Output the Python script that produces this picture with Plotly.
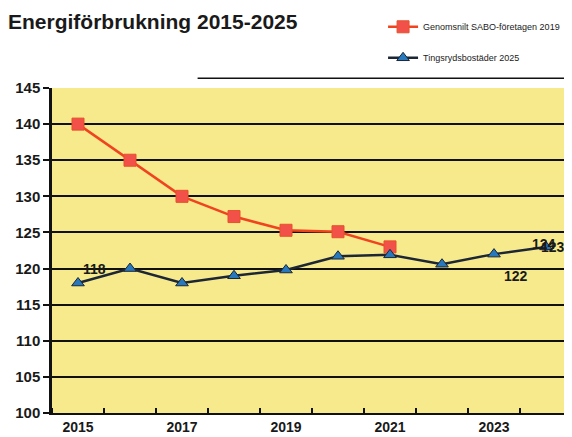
import plotly.graph_objects as go

# Energy use per year
years = [2015, 2016, 2017, 2018, 2019, 2020, 2021, 2022, 2023, 2024]
sabo_years = [2015, 2016, 2017, 2018, 2019, 2020, 2021]
sabo_values = [140, 135, 130, 127.2, 125.3, 125.1, 123]
tingsryd_values = [118, 120, 118, 119, 119.8, 121.7, 121.9, 120.6, 122, 123]
y_ticks = [100, 105, 110, 115, 120, 125, 130, 135, 140, 145]
x_labels = [2015, 2017, 2019, 2021, 2023]

# points that carry a value label in the original, with label offsets
labelled = {2015: (16, 14), 2023: (22, -22), 2024: (7, 0)}

fig = go.Figure()

fig.add_trace(go.Scatter(
    x=sabo_years, y=sabo_values, mode='lines+markers',
    name='Genomsnilt SABO-företagen 2019', legendgroup='a',
    line=dict(color='#f0431f', width=2.5),
    marker=dict(symbol='square', size=12, color='#f2514a',
                line=dict(color='#e8502a', width=1))
))

fig.add_trace(go.Scatter(
    x=years, y=tingsryd_values, mode='lines+markers',
    name='Tingsrydsbostäder 2025', legendgroup='b',
    line=dict(color='#1c2634', width=2.5),
    marker=dict(symbol='triangle-up', size=11, color='#2878bd',
                line=dict(color='#1c2634', width=1))
))

lbl_font = dict(family='Liberation Sans', size=14, color='#1a1a1a', weight='bold')
for yr, (dx, dy) in labelled.items():
    v = tingsryd_values[years.index(yr)]
    fig.add_annotation(x=yr, y=v, text=str(round(v)), showarrow=False,
                       xshift=dx, yshift=dy, font=lbl_font)
# overlapping label at the end of the line, as in the scan
fig.add_annotation(x=years[-1], y=tingsryd_values[-1], text='124', showarrow=False,
                   xshift=-2, yshift=3, font=lbl_font)

# the page has an 8px body margin, so the figure is sized/offset to compensate
fig.update_layout(
    width=564, height=429,
    margin=dict(l=44, r=0, t=80, b=24, autoexpand=False),
    paper_bgcolor='white',
    plot_bgcolor='#f6ea8c',
    font=dict(family='Liberation Sans', color='#1a1a1a'),
    title=dict(text='<b>Energiförbrukning 2015-2025</b>', x=0, xanchor='left',
               y=0.985, yanchor='top',
               font=dict(family='Liberation Sans', size=21, color='#1a1a1a')),
    showlegend=True,
    legend=dict(xref='container', yref='container', x=0.665, xanchor='left',
                y=0.99, yanchor='top',
                bgcolor='rgba(0,0,0,0)', tracegroupgap=12, itemwidth=30,
                font=dict(family='Liberation Sans', size=9, color='#1a1a1a')),
    xaxis=dict(
        range=[2014.5, 2024.5], tickmode='array', tickvals=x_labels,
        ticks='', showgrid=False, zeroline=False,
        showline=True, linecolor='#111', linewidth=2,
        tickfont=dict(size=14, color='#1a1a1a', family='Liberation Sans', weight='bold'),
        minor=dict(ticks='inside', ticklen=5, tickcolor='#111', tickwidth=2,
                   tick0=2014.5, dtick=1, showgrid=False)
    ),
    yaxis=dict(
        range=[100, 145], tickmode='array', tickvals=y_ticks,
        ticks='outside', ticklen=6, tickcolor='#111', tickwidth=1.5,
        showgrid=True, gridcolor='#111', gridwidth=1.5, zeroline=False,
        showline=True, linecolor='#111', linewidth=2.5,
        tickfont=dict(size=15, color='#1a1a1a', family='Liberation Sans', weight='bold')
    ),
)

# thin frame line above the plot area
fig.add_shape(type='line', xref='paper', yref='paper', x0=0.28, x1=1.0, y0=1.03, y1=1.03,
              line=dict(color='#111', width=1.5))

fig.write_html('out.html')
